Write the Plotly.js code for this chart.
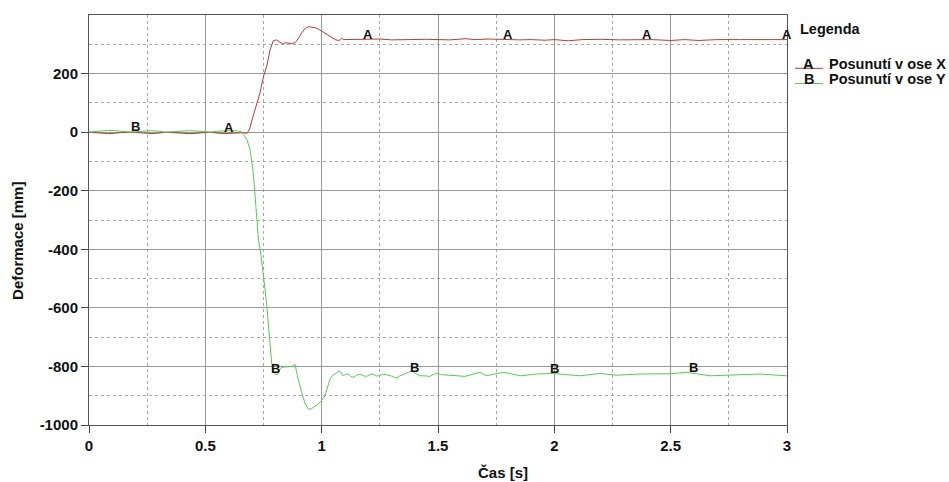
<!DOCTYPE html>
<html>
<head>
<meta charset="utf-8">
<script src="https://cdn.plot.ly/plotly-3.0.1.min.js"></script>
<style>
  html, body { margin: 0; padding: 0; background: #ffffff; }
  #chart { width: 949px; height: 482px; }
</style>
</head>
<body>
<div id="chart"></div>
<script>
// ---- data ----
const timeX = [0, 0.02, 0.05, 0.08, 0.11, 0.14, 0.18, 0.21, 0.24, 0.27, 0.30, 0.33, 0.37, 0.40, 0.43, 0.46, 0.49, 0.52, 0.55, 0.58, 0.61, 0.64, 0.66, 0.678, 0.69, 0.706, 0.72, 0.735, 0.75, 0.764, 0.778, 0.792, 0.806, 0.818, 0.828, 0.85, 0.87, 0.885, 0.90, 0.915, 0.93, 0.945, 0.96, 0.975, 0.99, 1.005, 1.02, 1.04, 1.06, 1.075, 1.085, 1.095, 1.12, 1.15, 1.2, 1.25, 1.3, 1.35, 1.4, 1.45, 1.5, 1.55, 1.62, 1.66, 1.72, 1.78, 1.85, 1.9, 1.96, 2.0, 2.06, 2.12, 2.2, 2.28, 2.35, 2.42, 2.5, 2.56, 2.62, 2.7, 2.8, 2.9, 3.0];
const posunX = [0, -1, -4, -5, -4, -1, 0, -2, -4, -5, -3, 0, -2, -4, -5, -4, -1, 0, -3, -5, -4, -2, -2, -4, 10, 56, 95, 135, 190, 226, 280, 312, 315, 308, 303, 305, 302, 305, 320, 340, 355, 360, 357, 356, 350, 343, 335, 325, 315, 313, 320, 316, 316, 317, 316, 318, 315, 316, 315, 317, 316, 315, 319, 316, 318, 316, 315, 316, 314, 316, 312, 316, 317, 315, 316, 316, 313, 316, 313, 316, 316, 316, 316];

const timeY = [0, 0.02, 0.05, 0.08, 0.11, 0.14, 0.18, 0.21, 0.24, 0.27, 0.30, 0.33, 0.37, 0.40, 0.43, 0.46, 0.49, 0.52, 0.55, 0.58, 0.61, 0.64, 0.655, 0.663, 0.678, 0.692, 0.706, 0.717, 0.728, 0.739, 0.749, 0.757, 0.764, 0.771, 0.778, 0.785, 0.792, 0.8, 0.81, 0.82, 0.828, 0.85, 0.87, 0.878, 0.885, 0.895, 0.905, 0.914, 0.928, 0.943, 0.955, 0.964, 0.975, 0.993, 1.014, 1.025, 1.036, 1.047, 1.057, 1.076, 1.085, 1.093, 1.104, 1.115, 1.125, 1.136, 1.15, 1.165, 1.18, 1.193, 1.207, 1.222, 1.236, 1.25, 1.265, 1.279, 1.30, 1.322, 1.336, 1.35, 1.37, 1.386, 1.40, 1.422, 1.44, 1.465, 1.48, 1.494, 1.515, 1.537, 1.616, 1.68, 1.708, 1.781, 1.856, 1.924, 1.995, 2.11, 2.196, 2.268, 2.368, 2.497, 2.569, 2.669, 2.769, 2.884, 3.0];
const posunY = [0, 2, 5, 6, 5, 2, 0, 2, 4, 5, 3, 0, 2, 4, 5, 4, 1, 0, 3, 5, 5, 4, 2, -7, -25, -58, -138, -250, -365, -420, -479, -540, -593, -650, -707, -786, -815, -826, -828, -810, -803, -802, -800, -798, -792, -830, -866, -889, -925, -946, -945, -940, -936, -923, -900, -870, -843, -830, -826, -815, -825, -832, -826, -826, -835, -837, -830, -826, -832, -834, -828, -826, -833, -831, -826, -828, -833, -840, -832, -828, -822, -815, -822, -832, -832, -834, -828, -823, -828, -829, -834, -820, -832, -820, -832, -826, -824, -832, -824, -830, -826, -825, -820, -832, -830, -826, -832];

const labelsA = [0.6, 1.2, 1.8, 2.4, 3.0];
const labelsB = [0.2, 0.8, 1.4, 2.0, 2.6];

const xTicks = [0, 0.5, 1, 1.5, 2, 2.5, 3];
const xTickText = ['0', '0.5', '1', '1.5', '2', '2.5', '3'];
const xMinor = [0.25, 0.75, 1.25, 1.75, 2.25, 2.75];
const yTicks = [-1000, -800, -600, -400, -200, 0, 200];
const yTickText = ['-1000', '-800', '-600', '-400', '-200', '0', '200'];
const yMinor = [-900, -700, -500, -300, -100, 100, 300];

const nameX = 'Posunutí v ose X';
const nameY = 'Posunutí v ose Y';
const xTitle = 'Čas [s]';
const yTitle = 'Deformace [mm]';
const legendTitle = 'Legenda';

// ---- helpers ----
function interp(xs, ys, x) {
  for (let i = 0; i < xs.length - 1; i++) {
    if (x >= xs[i] && x <= xs[i + 1]) {
      const t = (x - xs[i]) / (xs[i + 1] - xs[i]);
      return ys[i] + t * (ys[i + 1] - ys[i]);
    }
  }
  return ys[ys.length - 1];
}

const RED = '#c0392f';
const GREEN = '#4fcf4f';
const FONT = 'Liberation Sans, Arial, sans-serif';
const boldFont = (s) => ({ family: FONT, size: s, color: '#111', weight: 'bold' });

const traces = [
  { x: timeX, y: posunX, type: 'scatter', mode: 'lines', name: nameX,
    line: { color: RED, width: 1 }, hoverinfo: 'skip' },
  { x: timeY, y: posunY, type: 'scatter', mode: 'lines', name: nameY,
    line: { color: GREEN, width: 1 }, hoverinfo: 'skip' }
];

function letterAnn(letter, xs, ys, t) {
  return { text: letter, xref: 'x', yref: 'y', x: t, y: interp(xs, ys, t),
    xanchor: 'center', yanchor: 'bottom', yshift: -4, showarrow: false,
    font: boldFont(13) };
}

const annotations = [
  ...labelsA.map(t => letterAnn('A', timeX, posunX, t)),
  ...labelsB.map(t => letterAnn('B', timeY, posunY, t)),
  { text: xTitle, xref: 'paper', yref: 'paper', x: 0.593, y: -0.117, xanchor: 'center', yanchor: 'middle',
    showarrow: false, font: boldFont(15) },
  { text: yTitle, xref: 'paper', yref: 'paper', x: -0.1017, y: 0.449, xanchor: 'center', yanchor: 'middle',
    textangle: -90, showarrow: false, font: boldFont(15) },
  { text: legendTitle, xref: 'paper', yref: 'paper', x: 1.0158, y: 0.966, xanchor: 'left', yanchor: 'middle',
    showarrow: false, font: boldFont(14.5) },
  { text: 'A', xref: 'paper', yref: 'paper', x: 1.0315, y: 0.881, xanchor: 'center', yanchor: 'middle',
    showarrow: false, font: boldFont(14.5) },
  { text: nameX, xref: 'paper', yref: 'paper', x: 1.0573, y: 0.881, xanchor: 'left', yanchor: 'middle',
    showarrow: false, font: boldFont(14.5) },
  { text: 'B', xref: 'paper', yref: 'paper', x: 1.0315, y: 0.844, xanchor: 'center', yanchor: 'middle',
    showarrow: false, font: boldFont(14.5) },
  { text: nameY, xref: 'paper', yref: 'paper', x: 1.0573, y: 0.844, xanchor: 'left', yanchor: 'middle',
    showarrow: false, font: boldFont(14.5) }
];

const layout = {
  width: 949, height: 482,
  margin: { l: 89, r: 162, t: 15, b: 57 },
  paper_bgcolor: '#ffffff', plot_bgcolor: '#ffffff',
  showlegend: false,
  font: { family: FONT, size: 15, color: '#111' },
  xaxis: {
    range: [0, 3], tickvals: xTicks, ticktext: xTickText,
    showgrid: true, gridcolor: '#999', gridwidth: 1,
    zeroline: false, showline: true, mirror: true, linecolor: '#555', linewidth: 1,
    ticks: 'outside', ticklen: 7, tickcolor: '#444',
    tickfont: boldFont(15),
    minor: { tickvals: xMinor, showgrid: true, gridcolor: '#a8a8a8', griddash: '3px,3px', gridwidth: 1, ticks: '' }
  },
  yaxis: {
    range: [-1000, 400], tickvals: yTicks, ticktext: yTickText,
    showgrid: true, gridcolor: '#999', gridwidth: 1,
    zeroline: false, showline: true, mirror: true, linecolor: '#555', linewidth: 1,
    ticks: 'outside', ticklen: 7, tickcolor: '#444',
    tickfont: boldFont(15),
    minor: { tickvals: yMinor, showgrid: true, gridcolor: '#a8a8a8', griddash: '3px,3px', gridwidth: 1, ticks: '' }
  },
  annotations: annotations,
  shapes: [
    { type: 'line', xref: 'paper', yref: 'paper', x0: 1.0115, x1: 1.0516, y0: 0.870, y1: 0.870,
      line: { color: RED, width: 1 } },
    { type: 'line', xref: 'paper', yref: 'paper', x0: 1.0115, x1: 1.0516, y0: 0.833, y1: 0.833,
      line: { color: GREEN, width: 1 } }
  ]
};

Plotly.newPlot('chart', traces, layout, { staticPlot: true, displayModeBar: false });
</script>
</body>
</html>
